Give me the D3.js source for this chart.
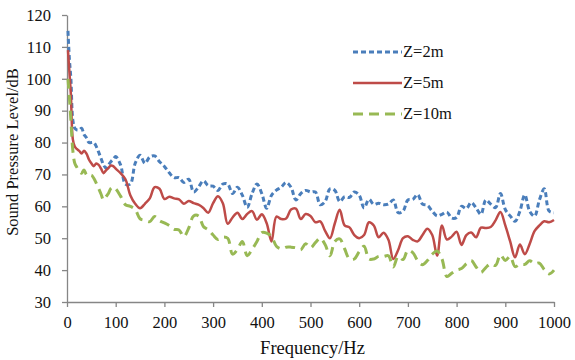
<!DOCTYPE html>
<html>
<head>
<meta charset="utf-8">
<script src="https://cdn.jsdelivr.net/npm/d3@7"></script>
<style>
  body { margin: 0; background: #fff; }
  svg { display: block; font-family: "Liberation Serif", "Times New Roman", serif; }
</style>
</head>
<body>
<div id="chart"></div>
<script>
// frequencies (Hz)
const freq = [2, 5, 8, 12, 16, 20, 25, 30, 35, 40, 45, 50, 55, 60, 65, 70, 75, 80, 85, 90, 95, 100,
  110, 120, 130, 140, 150, 160, 170, 180, 190, 200, 210, 220, 230, 240, 250, 260, 270, 280, 290, 300,
  310, 320, 330, 340, 350, 360, 370, 380, 390, 400, 410, 420, 430, 440, 450, 460, 470, 480, 490, 500,
  510, 520, 530, 540, 550, 560, 570, 580, 590, 600, 610, 620, 630, 640, 650, 660, 670, 680, 690, 700,
  710, 720, 730, 740, 750, 760, 770, 780, 790, 800, 810, 820, 830, 840, 850, 860, 870, 880, 890, 900,
  910, 920, 930, 940, 950, 960, 970, 980, 990, 1000];

const z2 = [115, 106, 100, 87, 84.5, 84, 84, 84.5, 82.5, 81.5, 80, 80, 80, 78.8, 77, 75, 73, 72, 73, 74, 74.8, 75.6,
  73, 67, 67, 73.5, 76, 73.5, 75.5, 75.8, 74, 72.5, 70.5, 69, 69, 67.5, 68.5, 64.5, 66, 68, 66.5, 66.3,
  65, 67, 67, 64, 66, 63.5, 59.7, 64, 67, 64, 59.4, 63.5, 65.1, 66, 67.5, 66, 62, 64, 65, 64.5,
  64.5, 60.5, 61.5, 65.5, 65, 61.5, 63, 62.8, 64.5, 63.5, 59.5, 62.2, 60.6, 61, 60.5, 60.7, 62, 58, 58.5, 62,
  62.2, 63.7, 60.7, 60.3, 58.5, 57, 57.5, 58.2, 56.3, 56.5, 60, 59.3, 61.2, 59.5, 57.5, 62, 60.7, 59.6, 64, 59,
  57, 55.3, 58.5, 63.6, 58.5, 56.9, 62, 65.5, 58.5, 58];

const z5 = [109, 102, 95, 81, 78.7, 78, 77.4, 76.6, 77.4, 76.5, 74.7, 73.5, 72.6, 73.4, 73, 71.8, 70.4, 71.3, 72, 72.8, 72.6, 71.8,
  70.4, 68.5, 63.5, 60.8, 59.4, 60.8, 62.5, 66, 65.5, 62.3, 63, 62.5, 62.2, 60.8, 61.7, 61, 60.5, 59.5, 58, 61,
  63.2, 61, 54.5, 56.5, 58, 56, 57.6, 58.5, 55.8, 57.5, 54.7, 49, 56.8, 56, 56.2, 59, 59.3, 56, 57.6, 57,
  55, 55.3, 52.3, 50, 54.7, 58.9, 54, 53.4, 51, 50, 51, 55, 54, 50.3, 51.7, 49.5, 43.5, 46.3, 50, 50.6,
  49.5, 49, 51, 53, 51, 44.5, 54, 49.6, 50.5, 52, 47.9, 51, 51.8, 50.3, 53.3, 53.2, 53.5, 55.6, 58.2, 54,
  49, 44, 48, 45, 48.2, 52.2, 54, 55.3, 55, 55.7];

const z10 = [100, 94, 87, 77.5, 73.5, 72.3, 71, 70.4, 71.4, 69.9, 69.5, 69.8, 68.8, 67.3, 65.6, 63.8, 62, 63, 64, 65.6, 66, 65.5,
  63.2, 60.5, 60, 59, 56.1, 55.6, 55.2, 56.8, 55.5, 54.8, 54, 52.8, 52.6, 50.5, 53.2, 57, 57, 53.7, 52.6, 51,
  49.6, 50.4, 50, 45, 46.5, 49, 44.5, 46.5, 49, 51.8, 51.6, 50.5, 47.5, 46.7, 47.2, 47.2, 47, 46.4, 48.3, 47,
  48.6, 50, 48, 44.5, 49, 49.8, 46.7, 43.5, 43.5, 45.8, 47.5, 43.5, 43.5, 44.3, 44.3, 44.5, 41, 44.3, 43.3, 46.2,
  45.5, 43, 41.7, 43, 45, 46, 43.5, 38, 39, 40, 40.5, 42, 43, 41, 39.3, 40.8, 42, 41.5, 44.8, 43,
  44.3, 41.1, 41.8, 41.8, 42.9, 42, 42.2, 40.2, 38.8, 40];

const seriesNames = ['Z=2m', 'Z=5m', 'Z=10m'];
const seriesValues = [z2, z5, z10];
const xTicks = [0, 100, 200, 300, 400, 500, 600, 700, 800, 900, 1000];
const yTicks = [30, 40, 50, 60, 70, 80, 90, 100, 110, 120];

const styles = [
  { color: '#4a7ebb', dash: '5,3', width: 3 },
  { color: '#be4b48', dash: null, width: 2.5 },
  { color: '#98b954', dash: '10,6', width: 3 }
];

const width = 575;
const height = 360;
const margin = { top: 15, right: 21, bottom: 58, left: 67 };

const svg = d3.select('#chart')
  .append('svg')
  .attr('width', width)
  .attr('height', height);

const x = d3.scaleLinear()
  .domain([0, 1000])
  .range([margin.left, width - margin.right]);

const y = d3.scaleLinear()
  .domain([30, 120])
  .range([height - margin.bottom, margin.top]);

// axes
const xAxis = svg.append('g')
  .attr('transform', `translate(0,${height - margin.bottom})`)
  .call(d3.axisBottom(x).tickValues(xTicks).tickFormat(d3.format('d'))
    .tickSize(5).tickPadding(9).tickSizeOuter(0));

const yAxis = svg.append('g')
  .attr('transform', `translate(${margin.left},0)`)
  .call(d3.axisLeft(y).tickValues(yTicks).tickSize(5).tickPadding(11).tickSizeOuter(0));

[xAxis, yAxis].forEach(g => {
  g.select('.domain').attr('stroke', '#868686').attr('stroke-width', 1.3);
  g.selectAll('.tick line').attr('stroke', '#868686').attr('stroke-width', 1.3);
  g.selectAll('.tick text')
    .attr('fill', '#111')
    .style('font-size', '16.5px')
    .style('font-family', '"Liberation Serif", serif');
});

// lines
const line = d3.line()
  .x((d, i) => x(freq[i]))
  .y(d => y(d))
  .curve(d3.curveCatmullRom.alpha(0.5));

seriesValues.forEach((vals, k) => {
  svg.append('path')
    .datum(vals)
    .attr('fill', 'none')
    .attr('stroke', styles[k].color)
    .attr('stroke-width', styles[k].width)
    .attr('stroke-dasharray', styles[k].dash)
    .attr('stroke-linejoin', 'round')
    .attr('d', line);
});

// legend
const legend = svg.selectAll('.legend-item')
  .data(seriesNames)
  .enter()
  .append('g')
  .attr('class', 'legend-item')
  .attr('transform', (d, i) => `translate(353, ${52 + i * 31})`);

legend.append('line')
  .attr('x1', 0)
  .attr('x2', 49)
  .attr('stroke', (d, i) => styles[i].color)
  .attr('stroke-width', (d, i) => styles[i].width)
  .attr('stroke-dasharray', (d, i) => styles[i].dash);

legend.append('text')
  .attr('x', 50)
  .attr('y', 5)
  .attr('fill', '#111')
  .style('font-size', '16.5px')
  .text(d => d);

// axis titles
svg.append('text')
  .attr('x', (margin.left + width - margin.right) / 2 + 2)
  .attr('y', 354)
  .attr('text-anchor', 'middle')
  .attr('fill', '#111')
  .style('font-size', '18.5px')
  .text('Frequency/Hz');

svg.append('text')
  .attr('transform', 'translate(18,152) rotate(-90)')
  .attr('text-anchor', 'middle')
  .attr('fill', '#111')
  .style('font-size', '16.5px')
  .text('Sound Pressure Level/dB');
</script>
</body>
</html>
